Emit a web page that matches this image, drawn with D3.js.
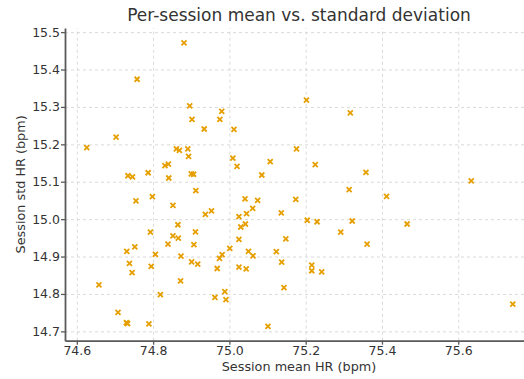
<!DOCTYPE html>
<html>
<head>
<meta charset="utf-8">
<script src="https://cdn.jsdelivr.net/npm/d3@7"></script>
<style>
  body { margin: 0; background: #fff; }
  svg { overflow: hidden; }
  svg text { font-family: "DejaVu Sans", sans-serif; fill: #333; }
  .grid line { stroke: #d0d0d0; stroke-dasharray: 3,3; stroke-width: 0.8; }
  .grid path { display: none; }
  .axis path, .axis line { stroke: #5a5a5a; }
  .axis path { stroke-width: 1.8; }
  .axis line { stroke-width: 1.3; }
</style>
</head>
<body>
<svg width="524" height="379"></svg>
<script>
// session mean HR (bpm)
const meanHR = [
  74.881, 74.758, 74.896, 74.902, 74.934, 74.975, 74.980, 75.012, 75.202, 75.317,
  74.703, 74.626, 74.861, 74.869, 74.891, 74.893, 74.831, 74.840, 74.734, 74.746,
  74.787, 74.841, 74.900, 74.906, 74.912, 74.798, 74.755, 74.852, 74.937, 74.953,
  74.865, 74.793, 74.911, 74.852, 75.176, 75.009, 75.020, 75.107, 75.225, 75.085,
  75.314, 75.041, 75.074, 75.174, 75.061, 75.045, 75.025, 75.136, 75.204, 75.230,
  75.322, 75.042, 75.030, 75.292, 75.358, 75.634, 75.412, 75.466, 74.866, 74.731,
  74.752, 74.839, 74.907, 74.806, 74.873, 74.901, 74.917, 74.974, 74.738, 74.795,
  74.968, 74.745, 74.872, 74.658, 74.819, 74.962, 74.708, 74.730, 74.733, 74.789,
  75.025, 75.001, 75.148, 75.050, 75.062, 75.123, 74.981, 75.025, 75.044, 75.137,
  75.216, 75.216, 75.242, 75.143, 74.988, 74.991, 75.101, 75.361, 75.743
];
// session std HR (bpm)
const stdHR = [
  15.471, 15.374, 15.303, 15.267, 15.241, 15.267, 15.288, 15.240, 15.318, 15.284,
  15.219, 15.191, 15.188, 15.184, 15.188, 15.168, 15.143, 15.147, 15.116, 15.113,
  15.124, 15.110, 15.121, 15.120, 15.076, 15.060, 15.049, 15.037, 15.013, 15.022,
  14.985, 14.965, 14.966, 14.955, 15.188, 15.163, 15.141, 15.154, 15.146, 15.118,
  15.079, 15.054, 15.050, 15.053, 15.029, 15.015, 15.007, 15.017, 14.997, 14.993,
  14.995, 14.987, 14.979, 14.965, 15.125, 15.102, 15.061, 14.987, 14.949, 14.914,
  14.926, 14.933, 14.932, 14.906, 14.901, 14.886, 14.880, 14.895, 14.882, 14.874,
  14.868, 14.857, 14.835, 14.824, 14.798, 14.791, 14.751, 14.723, 14.721, 14.720,
  14.946, 14.922, 14.947, 14.914, 14.902, 14.913, 14.905, 14.872, 14.867, 14.885,
  14.877, 14.862, 14.859, 14.817, 14.806, 14.785, 14.713, 14.933, 14.773
];
const xTicks = [74.6, 74.8, 75.0, 75.2, 75.4, 75.6];
const yTicks = [14.7, 14.8, 14.9, 15.0, 15.1, 15.2, 15.3, 15.4, 15.5];

const data = meanHR.map((m, i) => ({mean: m, std: stdHR[i]}));

// the axes run a little past the right edge of the picture
let svg = d3.select("svg"),
    margin = {top: 28, right: -9, bottom: 38.3, left: 65},
    width = +svg.attr("width") - margin.left - margin.right,
    height = +svg.attr("height") - margin.top - margin.bottom;

let g = svg.append("g")
  .attr("transform", "translate(" + margin.left + "," + margin.top + ")");

let x = d3.scaleLinear().domain([74.569, 75.796]).range([0, width]);
let y = d3.scaleLinear().domain([14.675, 15.511]).range([height, 0]);

// grid
g.append("g")
    .attr("class", "grid")
    .attr("transform", "translate(0," + height + ")")
    .call(d3.axisBottom(x).tickValues(xTicks).tickSize(-height).tickFormat(""));
g.append("g")
    .attr("class", "grid")
    .call(d3.axisLeft(y).tickValues(yTicks).tickSize(-width).tickFormat(""));

// points, drawn as small x marks
let s = 2.5;
g.append("g").selectAll("path")
    .data(data)
  .enter().append("path")
    .attr("transform", d => "translate(" + x(d.mean) + "," + y(d.std) + ")")
    .attr("d", "M" + (-s) + "," + (-s) + "L" + s + "," + s + "M" + (-s) + "," + s + "L" + s + "," + (-s))
    .attr("stroke", "#e69f00")
    .attr("stroke-width", 1.8)
    .attr("fill", "none");

// axes
let xAxis = g.append("g")
    .attr("class", "axis")
    .attr("transform", "translate(0," + height + ")")
    .call(d3.axisBottom(x).tickValues(xTicks).tickSize(4).tickSizeOuter(0).tickFormat(d3.format(".1f")));
xAxis.selectAll("text").style("font-size", "12.5px").attr("y", 5);

let yAxis = g.append("g")
    .attr("class", "axis")
    .call(d3.axisLeft(y).tickValues(yTicks).tickSize(4).tickSizeOuter(0).tickFormat(d3.format(".1f")));
yAxis.selectAll("text").style("font-size", "12.5px").attr("x", -5);

// labels
svg.append("text")
    .attr("x", margin.left + width / 2)
    .attr("y", 371)
    .attr("text-anchor", "middle")
    .style("font-size", "12.8px")
    .text("Session mean HR (bpm)");

svg.append("text")
    .attr("transform", "translate(25," + (margin.top + height / 2) + ") rotate(-90)")
    .attr("text-anchor", "middle")
    .style("font-size", "12.8px")
    .text("Session std HR (bpm)");

svg.append("text")
    .attr("x", margin.left + width / 2)
    .attr("y", 21)
    .attr("text-anchor", "middle")
    .style("font-size", "17px")
    .text("Per-session mean vs. standard deviation");
</script>
</body>
</html>
